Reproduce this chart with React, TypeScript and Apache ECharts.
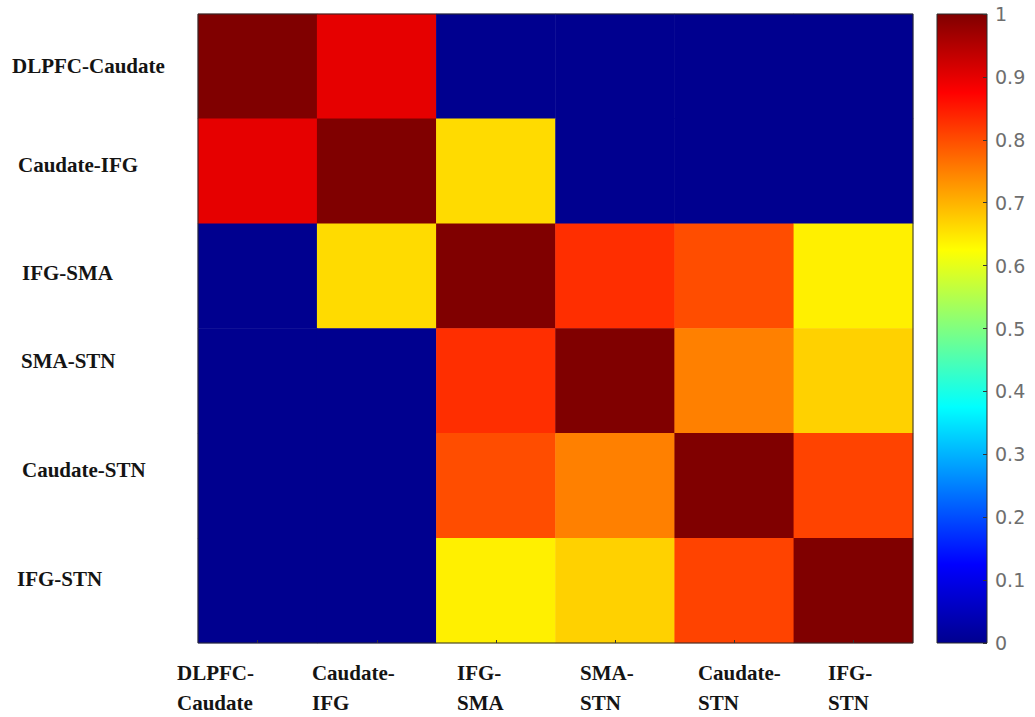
import React, { useEffect, useRef } from "react";
import * as echarts from "echarts";

// Categories (regions pairs)
const categories = [
  "DLPFC-Caudate",
  "Caudate-IFG",
  "IFG-SMA",
  "SMA-STN",
  "Caudate-STN",
  "IFG-STN",
];

// Correlation values, one array per row (top to bottom)
const rowDLPFCCaudate = [1, 0.9, 0, 0, 0, 0];
const rowCaudateIFG = [0.9, 1, 0.66, 0, 0, 0];
const rowIFGSMA = [0, 0.66, 1, 0.83, 0.8, 0.64];
const rowSMASTN = [0, 0, 0.83, 1, 0.75, 0.67];
const rowCaudateSTN = [0, 0, 0.8, 0.75, 1, 0.81];
const rowIFGSTN = [0, 0, 0.64, 0.67, 0.81, 1];

const rows = [rowDLPFCCaudate, rowCaudateIFG, rowIFGSMA, rowSMASTN, rowCaudateSTN, rowIFGSTN];

// Colorbar scale
const colorbarMin = 0;
const colorbarMax = 1;
const colorbarStep = 0.1;

// Jet colormap (MATLAB-like)
const jet = ["#00008f", "#0000ff", "#0080ff", "#00ffff", "#80ff80", "#ffff00", "#ff8000", "#ff0000", "#800000"];

// label layout tweaks (style only)
const xLabelShift = [80.6, 64.8, 38.9, 35.1, 36.3, 25.4];
const yLabelPadLeft = [0, 6, 10, 9, 10, 5];
const yLabelRaise = [0, 6, 3, 20, 16, 12];

const labelFont = {
  fontFamily: "'Liberation Serif', 'Times New Roman', serif",
  fontWeight: "bold" as const,
  fontSize: 21,
  color: "#141414",
};

export default function App() {
  const ref = useRef<HTMLDivElement>(null);
  useEffect(() => {
    if (!ref.current) return;
    const chart = echarts.init(ref.current, undefined, { renderer: "svg" });

    const data: [number, number, number][] = [];
    rows.forEach((r, yi) => r.forEach((v, xi) => data.push([xi, yi, v])));

    const xRich: Record<string, any> = {};
    xLabelShift.forEach((w, i) => {
      xRich["x" + i] = { ...labelFont, width: w, align: "left", lineHeight: 30 };
    });
    const yRich: Record<string, any> = {};
    yLabelPadLeft.forEach((p, i) => {
      yRich["y" + i] = {
        ...labelFont,
        lineHeight: 24,
        padding: [0, 0, yLabelRaise[i] * 2, p],
      };
    });

    chart.setOption({
      animation: false,
      backgroundColor: "#ffffff",
      grid: [
        { left: 198, top: 14, width: 715, height: 629, show: true, z: 10, backgroundColor: "transparent", borderColor: "#2a2a2a", borderWidth: 1 },
        { left: 937, top: 14, width: 50, height: 629, show: true, z: 10, backgroundColor: "transparent", borderColor: "#2a2a2a", borderWidth: 1 },
      ],
      xAxis: [
        {
          type: "category",
          gridIndex: 0,
          data: categories,
          position: "bottom",
          axisLine: { show: false },
          axisTick: { show: true, inside: true, length: 3, alignWithLabel: true, lineStyle: { color: "#333" } },
          splitLine: { show: false },
          axisLabel: {
            interval: 0,
            align: "right",
            verticalAlign: "top",
            margin: 15,
            formatter: (v: string, i: number) => {
              const k = v.indexOf("-");
              return `{x${i}|${v.slice(0, k + 1)}}\n{x${i}|${v.slice(k + 1)}}`;
            },
            rich: xRich,
          },
          z: 10,
        },
        {
          type: "category",
          gridIndex: 1,
          data: [""],
          axisLine: { show: false },
          axisTick: { show: false },
          axisLabel: { show: false },
        },
      ],
      yAxis: [
        {
          type: "category",
          gridIndex: 0,
          data: categories,
          inverse: true,
          axisLine: { show: false },
          axisTick: { show: false },
          splitLine: { show: false },
          axisLabel: {
            interval: 0,
            align: "left",
            margin: 186,
            formatter: (v: string, i: number) => `{y${i}|${v}}`,
            rich: yRich,
          },
        },
        {
          type: "value",
          gridIndex: 1,
          position: "right",
          min: colorbarMin,
          max: colorbarMax,
          interval: colorbarStep,
          splitLine: { show: false },
          axisLine: { show: false },
          axisTick: { show: true, inside: true, length: 4, lineStyle: { color: "#333" } },
          axisLabel: {
            margin: 8,
            fontFamily: "'DejaVu Sans', sans-serif",
            fontSize: 19,
            color: "#6e6e6e",
            formatter: (v: number) => String(Math.round(v * 10) / 10),
          },
          z: 10,
        },
      ],
      visualMap: {
        type: "continuous",
        show: false,
        min: colorbarMin,
        max: colorbarMax,
        seriesIndex: 0,
        inRange: { color: jet },
      },
      series: [
        {
          type: "heatmap",
          xAxisIndex: 0,
          yAxisIndex: 0,
          data,
          itemStyle: { borderWidth: 0 },
          emphasis: { disabled: true },
        },
        {
          type: "bar",
          xAxisIndex: 1,
          yAxisIndex: 1,
          data: [colorbarMax],
          barWidth: "100%",
          itemStyle: {
            color: new echarts.graphic.LinearGradient(
              0,
              1,
              0,
              0,
              jet.map((c, i) => ({ offset: i / (jet.length - 1), color: c }))
            ),
          },
          emphasis: { disabled: true },
        },
      ],
    });
    return () => chart.dispose();
  }, []);
  return (
    <div
      ref={ref}
      style={{ position: "fixed", left: 0, top: 0, width: 1035, height: 717, background: "#fff" }}
    />
  );
}
